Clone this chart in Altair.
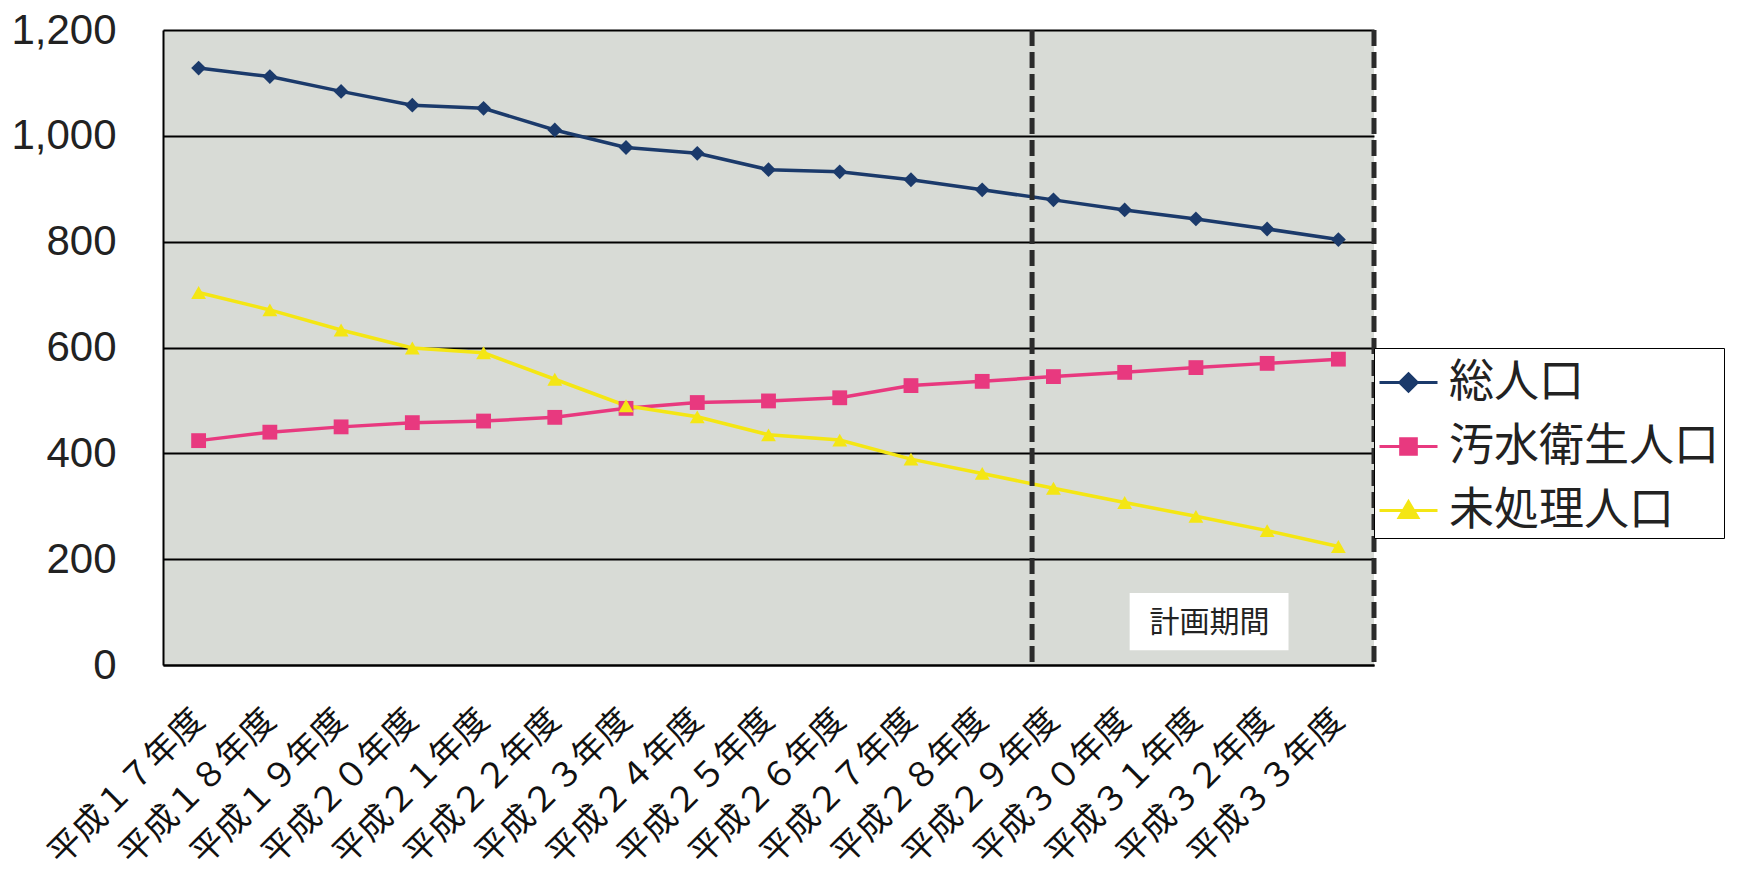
import json
import altair as alt
import pandas as pd

# ---- data ----
years = ["平成１７年度", "平成１８年度", "平成１９年度", "平成２０年度", "平成２１年度",
         "平成２２年度", "平成２３年度", "平成２４年度", "平成２５年度", "平成２６年度",
         "平成２７年度", "平成２８年度", "平成２９年度", "平成３０年度", "平成３１年度",
         "平成３２年度", "平成３３年度"]
total = [1128, 1112, 1084, 1058, 1052, 1011, 978, 967, 936, 932, 917, 898, 879, 860, 843, 824, 804]
sewage = [424, 440, 450, 458, 461, 468, 485, 496, 499, 505, 528, 536, 545, 553, 562, 570, 578]
untreated = [704, 671, 633, 599, 590, 540, 490, 469, 435, 425, 389, 362, 334, 307, 281, 254, 224]

series_names = ["総人口", "汚水衛生人口", "未処理人口"]
series_values = [total, sewage, untreated]
colors = ["#1b3a6b", "#e8397f", "#f4e614"]
point_shapes = ["diamond", "square", "triangle-up"]
# legend symbols: line stub plus a marker drawn as nested outlines (reads as filled)
legend_shapes = [
    "M-1,0H1"
    "M0,-0.3L0.3,0L0,0.3L-0.3,0Z"
    "M0,-0.2L0.2,0L0,0.2L-0.2,0Z"
    "M0,-0.1L0.1,0L0,0.1L-0.1,0Z"
    "M0,-0.02L0.02,0L0,0.02L-0.02,0Z",
    "M-1,0H1"
    "M-0.27,-0.27H0.27V0.27H-0.27Z"
    "M-0.18,-0.18H0.18V0.18H-0.18Z"
    "M-0.09,-0.09H0.09V0.09H-0.09Z"
    "M-0.01,-0.01H0.01V0.01H-0.01Z",
    "M-1,0H1"
    "M0,-0.3L0.32,0.24H-0.32Z"
    "M0,-0.156L0.192,0.168H-0.192Z"
    "M0,-0.03L0.08,0.105H-0.08Z",
]

plan_lines = [11.7, 16.5]          # start of 計画期間 and right border
plan_label = "計画期間"
plan_box = {"x": 13.07, "x2": 15.3, "y": 28, "y2": 136}
plan_text_pos = {"x": 14.19, "y": 80}

rows = []
for name, vals in zip(series_names, series_values):
    for i, (yr, v) in enumerate(zip(years, vals)):
        rows.append({"idx": i, "year": yr, "series": name, "value": v})
df = pd.DataFrame(rows)

label_expr = json.dumps(years, ensure_ascii=False) + "[datum.value]"

x_enc = alt.X(
    "idx:Q",
    scale=alt.Scale(domain=[-0.5, 16.5], nice=False, zero=False),
    axis=alt.Axis(
        values=list(range(len(years))), labelExpr=label_expr, labelAngle=-45,
        labelAlign="right", labelBaseline="middle", labelPadding=50,
        ticks=False, tickSize=0, grid=False, domainColor="black", domainWidth=2,
        labelFont="Noto Sans CJK JP", labelFontSize=34, labelColor="#111",
        labelOverlap=False, labelFlush=False, labelBound=False, labelLimit=600,
        title=None,
    ),
)
y_enc = alt.Y(
    "value:Q",
    scale=alt.Scale(domain=[0, 1200], nice=False),
    axis=alt.Axis(
        values=[0, 200, 400, 600, 800, 1000, 1200], format=",.0f", grid=True,
        gridColor="black", gridWidth=2, ticks=False, tickSize=0,
        domainColor="black", domainWidth=2, labelFont="Liberation Sans",
        labelFontSize=42, labelPadding=47, labelColor="#222", title=None,
    ),
)


def color_enc(legend=None):
    return alt.Color("series:N", scale=alt.Scale(domain=series_names, range=colors), legend=legend)


base = alt.Chart(df)
lines = base.mark_line(strokeWidth=3.5).encode(x=x_enc, y=y_enc, color=color_enc())

point_layers = []
for name, shp in zip(series_names, point_shapes):
    point_layers.append(
        base.transform_filter(alt.datum.series == name)
        .mark_point(filled=True, size=220, opacity=1, shape=shp)
        .encode(x=x_enc, y=y_enc, color=color_enc())
    )

rules = alt.Chart(pd.DataFrame({"x": plan_lines})).mark_rule(
    color="#2b2b2b", strokeWidth=5, strokeDash=[16, 6]
).encode(x=alt.X("x:Q"))

box = alt.Chart(pd.DataFrame([plan_box])).mark_rect(color="white").encode(
    x="x:Q", x2="x2:Q", y="y:Q", y2="y2:Q"
)
box_text = alt.Chart(pd.DataFrame([{**plan_text_pos, "t": plan_label}])).mark_text(
    font="Noto Sans CJK JP", fontSize=30, color="#222"
).encode(x="x:Q", y="y:Q", text="t:N")

names_js = json.dumps(series_names, ensure_ascii=False)
shape_expr = json.dumps(legend_shapes) + "[indexof(" + names_js + ", datum.value)]"

leg = alt.Legend(
    orient="none", legendX=1211, legendY=318, title=None, padding=4, rowPadding=10,
    symbolSize=3364, symbolStrokeWidth=3, symbolOpacity=1,
    symbolType={"expr": shape_expr},
    labelFont="Noto Sans CJK JP", labelFontSize=45, labelColor="#222", labelOffset=10,
    labelLimit=500, fillColor="white", strokeColor="black",
)
legend_layer = base.mark_point(filled=False, strokeWidth=3, opacity=0).encode(
    x=x_enc, y=y_enc, color=color_enc(leg),
)

chart = alt.layer(
    box, box_text, lines, *point_layers, rules, legend_layer
).resolve_scale(color="independent").properties(
    width=1211, height=635, autosize="none", background="white",
    padding={"left": 163, "top": 30, "right": 363, "bottom": 217},
).configure_view(fill="#d8dbd6", stroke=None)

chart.save("out.html", embed_options={"renderer": "svg", "actions": False})
